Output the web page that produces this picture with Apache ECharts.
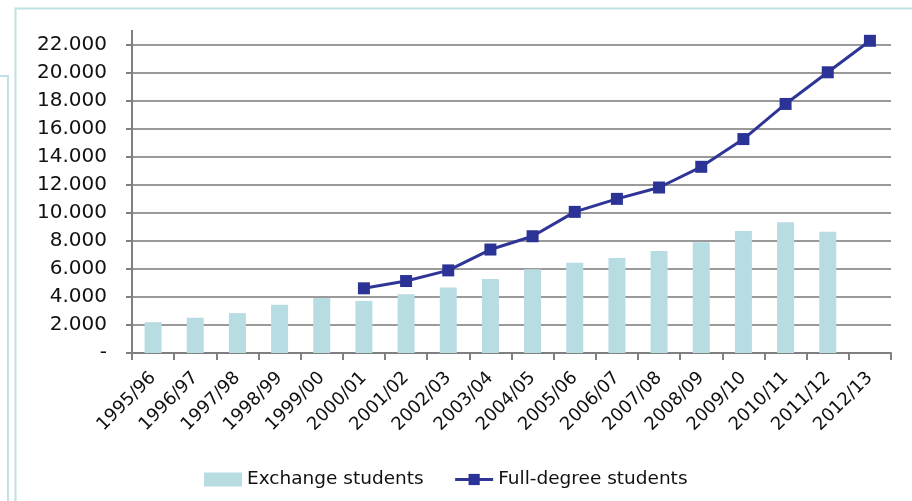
<!DOCTYPE html>
<html>
<head>
<meta charset="utf-8">
<script src="https://cdn.jsdelivr.net/npm/echarts@6/dist/echarts.min.js"></script>
<style>
html,body{margin:0;padding:0;background:#fff;}
#chart{width:912px;height:501px;}
</style>
</head>
<body>
<div id="chart"></div>
<script>
var categories = ['1995/96','1996/97','1997/98','1998/99','1999/00','2000/01','2001/02','2002/03','2003/04','2004/05','2005/06','2006/07','2007/08','2008/09','2009/10','2010/11','2011/12','2012/13'];
var exchangeStudents = [2200, 2520, 2850, 3450, 3920, 3710, 4190, 4670, 5280, 5980, 6450, 6790, 7290, 7910, 8720, 9340, 8660, null];
var fullDegreeStudents = [null, null, null, null, null, 4620, 5140, 5900, 7390, 8340, 10080, 11010, 11820, 13300, 15280, 17790, 20050, 22300];
var yTicks = { min: 0, max: 22000, interval: 2000 };

var FONT = 'DejaVu Sans';
var chart = echarts.init(document.getElementById('chart'), null, { renderer: 'canvas' });

function fmt(v) {
  if (v === 0) return '-';
  return String(v).replace(/\B(?=(\d{3})+(?!\d))/g, '.');
}

var option = {
  backgroundColor: '#ffffff',
  animation: false,
  grid: { left: 132, right: 21, top: 45, bottom: 148, containLabel: false },
  legend: {
    left: 199, top: 465,
    itemWidth: 38, itemHeight: 14, itemGap: 30,
    textStyle: { fontFamily: FONT, fontSize: 18.5, color: '#111' },
    data: [
      { name: 'Exchange students', icon: 'rect', itemStyle: { color: '#b7dce1' } },
      { name: 'Full-degree students', lineStyle: { width: 3 } }
    ]
  },
  xAxis: {
    type: 'category',
    data: categories,
    boundaryGap: true,
    axisLine: { lineStyle: { color: '#808080', width: 2 } },
    axisTick: { show: true, length: 7, lineStyle: { color: '#808080', width: 2 } },
    axisLabel: { rotate: 45, interval: 0, margin: 22, fontFamily: FONT, fontSize: 18, color: '#111' }
  },
  yAxis: {
    type: 'value',
    min: yTicks.min, max: yTicks.max, interval: yTicks.interval,
    axisLine: { show: true, lineStyle: { color: '#808080', width: 2 } },
    axisTick: { show: true, length: 6, lineStyle: { color: '#808080', width: 2 } },
    axisLabel: { margin: 25, fontFamily: FONT, fontSize: 20, color: '#111', formatter: fmt },
    splitLine: { show: true, lineStyle: { color: '#9a9a9a', width: 2 } }
  },
  series: [
    {
      name: 'Exchange students',
      type: 'bar',
      data: exchangeStudents,
      barWidth: 17,
      itemStyle: { color: '#b7dce1' },
      z: 2
    },
    {
      name: 'Full-degree students',
      type: 'line',
      data: fullDegreeStudents,
      symbol: 'rect',
      symbolSize: 12,
      showAllSymbol: true,
      connectNulls: false,
      clip: false,
      lineStyle: { color: '#2e3596', width: 3 },
      itemStyle: { color: '#2b3397' },
      z: 3
    }
  ]
};
chart.setOption(option);

// decorative frame and axis-line extension
var axisX = chart.convertToPixel({ xAxisIndex: 0 }, 0) - (chart.convertToPixel({ xAxisIndex: 0 }, 1) - chart.convertToPixel({ xAxisIndex: 0 }, 0)) / 2;
var topY = chart.convertToPixel({ yAxisIndex: 0 }, yTicks.max);
chart.setOption({
  graphic: [
    { type: 'polyline', shape: { points: [[912, 8.5], [15.5, 8.5], [15.5, 501]] }, style: { stroke: '#bfe0e4', lineWidth: 2, fill: null }, silent: true },
    { type: 'polyline', shape: { points: [[0, 76], [8, 76], [8, 501]] }, style: { stroke: '#bfe0e4', lineWidth: 2, fill: null }, silent: true },
    { type: 'line', shape: { x1: axisX, y1: 30, x2: axisX, y2: topY }, style: { stroke: '#808080', lineWidth: 2 }, silent: true }
  ]
});
</script>
</body>
</html>
